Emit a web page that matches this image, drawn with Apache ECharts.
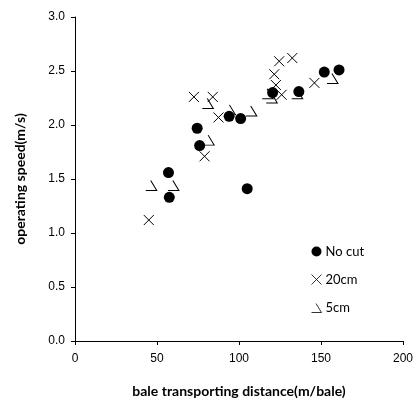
<!DOCTYPE html>
<html>
<head>
<meta charset="utf-8">
<script src="https://cdn.jsdelivr.net/npm/echarts@6/dist/echarts.min.js"></script>
<style>
  html, body { margin: 0; padding: 0; background: #fff; }
  #chart { width: 416px; height: 405px; }
</style>
</head>
<body>
<div id="chart"></div>
<script>
// Operating speed against bale transporting distance, three cutting heights
const noCutX = [57, 57.5, 74.5, 76, 94, 101, 105, 120.5, 136.5, 152, 161];
const noCutY = [1.56, 1.33, 1.97, 1.81, 2.08, 2.06, 1.41, 2.30, 2.31, 2.49, 2.51];

const cm20X = [45, 79, 72.5, 84, 87.5, 121.5, 124.5, 132.5, 122.5, 126, 146];
const cm20Y = [1.12, 1.71, 2.26, 2.26, 2.07, 2.47, 2.59, 2.62, 2.37, 2.28, 2.39];

const cm5X = [46.5, 60, 81.5, 81, 94.5, 107.5, 117.5, 120, 135.5, 157];
const cm5Y = [1.44, 1.44, 1.86, 2.20, 2.14, 2.13, 2.29, 2.25, 2.29, 2.43];

const xTicks = [0, 50, 100, 150, 200];
const yTicks = [0, 0.5, 1.0, 1.5, 2.0, 2.5, 3.0];

const seriesNames = ['No cut', '20cm', '5cm'];

const pairs = (xs, ys) => xs.map((x, i) => [x, ys[i]]);

const crossSymbol = 'path://M0,0L10,10M10,0L0,10';
const hookSymbol = 'path://M0,9L10,9L4.5,0';

const chart = echarts.init(document.getElementById('chart'), null, { renderer: 'canvas' });

const labelFont = { fontFamily: 'Liberation Sans', fontSize: 12, color: '#000' };
const titleFont = { fontFamily: 'Lato', fontWeight: 'bold', fontSize: 14, color: '#000' };

chart.setOption({
  animation: false,
  backgroundColor: '#fff',
  grid: { left: 75, right: 13, top: 17, bottom: 64, containLabel: false },
  xAxis: {
    type: 'value',
    min: xTicks[0],
    max: xTicks[xTicks.length - 1],
    interval: 50,
    name: 'bale transporting distance(m/bale)',
    nameLocation: 'middle',
    nameGap: 43,
    nameTextStyle: titleFont,
    axisLine: { show: true, onZero: false, lineStyle: { color: '#000', width: 1 } },
    axisTick: { show: true, inside: false, length: 4, lineStyle: { color: '#000' } },
    axisLabel: Object.assign({ margin: 12 }, labelFont),
    splitLine: { show: false }
  },
  yAxis: {
    type: 'value',
    min: yTicks[0],
    max: yTicks[yTicks.length - 1],
    interval: 0.5,
    name: 'operating speed(m/s)',
    nameLocation: 'middle',
    nameGap: 48,
    nameRotate: 90,
    nameTextStyle: titleFont,
    axisLine: { show: true, onZero: false, lineStyle: { color: '#000', width: 1 } },
    axisTick: { show: true, inside: false, length: 4, lineStyle: { color: '#000' } },
    axisLabel: Object.assign({ margin: 10, formatter: v => v.toFixed(1) }, labelFont),
    splitLine: { show: false }
  },
  legend: {
    orient: 'vertical',
    left: 304,
    top: 240,
    itemWidth: 10,
    itemHeight: 10,
    itemGap: 14,
    itemStyle: { borderWidth: 0.8 },
    textStyle: { fontFamily: 'Lato', fontSize: 13, color: '#000', padding: [0, 0, 0, -1] },
    data: [
      { name: seriesNames[0], icon: 'circle', itemStyle: { borderWidth: 0 } },
      { name: seriesNames[1], icon: crossSymbol },
      { name: seriesNames[2], icon: hookSymbol }
    ]
  },
  series: [
    {
      name: seriesNames[0],
      type: 'scatter',
      symbol: 'circle',
      symbolSize: 11,
      itemStyle: { color: '#000', opacity: 1 },
      data: pairs(noCutX, noCutY)
    },
    {
      name: seriesNames[1],
      type: 'scatter',
      symbol: crossSymbol,
      symbolSize: 10,
      itemStyle: { color: 'none', borderColor: '#000', borderWidth: 1, opacity: 1 },
      data: pairs(cm20X, cm20Y)
    },
    {
      name: seriesNames[2],
      type: 'scatter',
      symbol: hookSymbol,
      symbolSize: [11, 10],
      itemStyle: { color: 'none', borderColor: '#000', borderWidth: 1, opacity: 1 },
      data: pairs(cm5X, cm5Y)
    }
  ]
});
</script>
</body>
</html>
